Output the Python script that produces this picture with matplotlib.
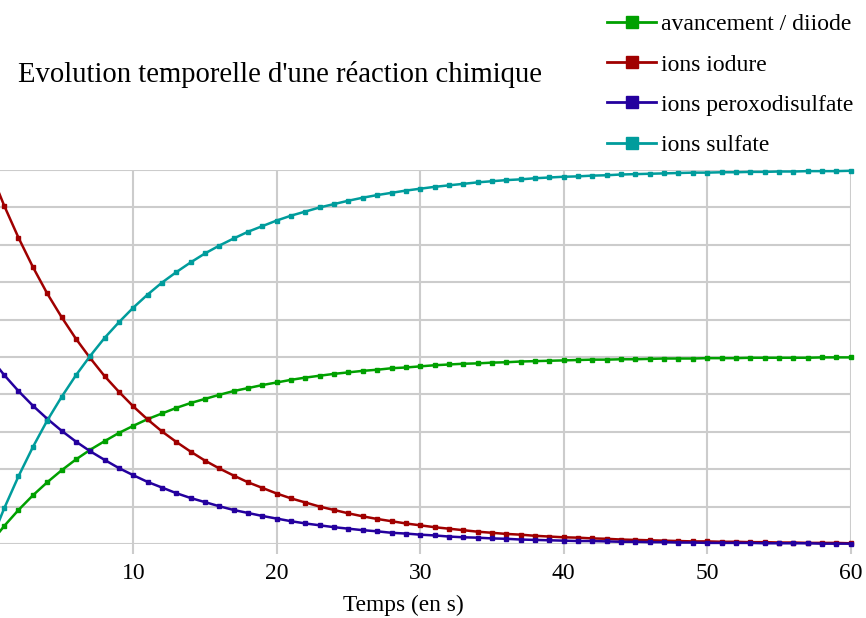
import matplotlib
matplotlib.use('Agg')
import matplotlib.pyplot as plt
from matplotlib.lines import Line2D

# --- données (un point par seconde) ---
temps = list(range(0, 61))

avancement = [0.00, 0.48, 0.91, 1.30, 1.65, 1.97, 2.26, 2.52, 2.75, 2.97,
              3.16, 3.34, 3.49, 3.64, 3.77, 3.88, 3.99, 4.09, 4.17, 4.25,
              4.32, 4.39, 4.45, 4.50, 4.55, 4.59, 4.63, 4.66, 4.70, 4.72,
              4.75, 4.78, 4.80, 4.82, 4.83, 4.85, 4.86, 4.88, 4.89, 4.90,
              4.91, 4.92, 4.93, 4.93, 4.94, 4.94, 4.95, 4.96, 4.96, 4.96,
              4.97, 4.97, 4.97, 4.98, 4.98, 4.98, 4.98, 4.98, 4.99, 4.99, 4.99]

iodure = [10.00, 9.05, 8.19, 7.41, 6.70, 6.07, 5.49, 4.97, 4.49, 4.07,
          3.68, 3.33, 3.01, 2.73, 2.47, 2.23, 2.02, 1.83, 1.65, 1.50,
          1.35, 1.22, 1.11, 1.00, 0.91, 0.82, 0.74, 0.67, 0.61, 0.55,
          0.50, 0.45, 0.41, 0.37, 0.33, 0.30, 0.27, 0.25, 0.22, 0.20,
          0.18, 0.17, 0.15, 0.14, 0.12, 0.11, 0.10, 0.09, 0.08, 0.07,
          0.07, 0.06, 0.06, 0.05, 0.05, 0.04, 0.04, 0.03, 0.03, 0.03, 0.02]

peroxodisulfate = [5.00, 4.52, 4.09, 3.70, 3.35, 3.03, 2.74, 2.48, 2.25, 2.03,
                   1.84, 1.66, 1.51, 1.36, 1.23, 1.12, 1.01, 0.91, 0.83, 0.75,
                   0.68, 0.61, 0.55, 0.50, 0.45, 0.41, 0.37, 0.34, 0.30, 0.28,
                   0.25, 0.23, 0.20, 0.18, 0.17, 0.15, 0.14, 0.12, 0.11, 0.10,
                   0.09, 0.08, 0.08, 0.07, 0.06, 0.06, 0.05, 0.05, 0.04, 0.04,
                   0.03, 0.03, 0.03, 0.03, 0.02, 0.02, 0.02, 0.02, 0.01, 0.01, 0.01]

sulfate = [0.00, 0.95, 1.81, 2.59, 3.30, 3.93, 4.51, 5.03, 5.51, 5.93,
           6.32, 6.67, 6.99, 7.27, 7.53, 7.77, 7.98, 8.17, 8.35, 8.50,
           8.65, 8.78, 8.89, 9.00, 9.09, 9.18, 9.26, 9.33, 9.39, 9.45,
           9.50, 9.55, 9.59, 9.63, 9.67, 9.70, 9.73, 9.75, 9.78, 9.80,
           9.82, 9.83, 9.85, 9.86, 9.88, 9.89, 9.90, 9.91, 9.92, 9.93,
           9.93, 9.94, 9.94, 9.95, 9.95, 9.96, 9.96, 9.97, 9.97, 9.97, 9.98]

series = [
    ('avancement / diiode', avancement, '#00a000'),
    ('ions iodure', iodure, '#a00000'),
    ('ions peroxodisulfate', peroxodisulfate, '#24009e'),
    ('ions sulfate', sulfate, '#009c9c'),
]

x_ticks = [10, 20, 30, 40, 50, 60]

plt.rcParams['font.family'] = ['Liberation Serif', 'DejaVu Serif']

fig = plt.figure(figsize=(8.66, 6.18), dpi=100)
# l'axe des ordonnées est hors cadre, comme sur l'image d'origine
ax = fig.add_axes([-0.0118, 0.1197, 0.9941, 0.6052])

for label, vals, col in series:
    ax.plot(temps, vals, color=col, linewidth=1.8, marker='s', markersize=2.2,
            clip_on=False, zorder=3)

ax.set_xlim(0, 60)
ax.set_ylim(0, 10)
ax.set_xticks([0] + x_ticks)
ax.set_xticklabels([''] + [str(t) for t in x_ticks])
ax.set_yticks(range(0, 11))
ax.set_yticklabels([])
ax.tick_params(axis='y', length=0)
ax.tick_params(axis='x', length=7, width=1.5, color='#cccccc', labelsize=17, pad=7)
ax.grid(True, color='#cccccc', linewidth=1.5)
ax.set_axisbelow(True)
for s in ax.spines.values():
    s.set_visible(False)

ax.set_xlabel('Temps (en s)', fontsize=16.8)
ax.xaxis.set_label_coords(0.48, -0.136)

fig.text(18 / 866, 1 - 75 / 618, "Evolution temporelle d'une réaction chimique",
         fontsize=20.6, va='center', ha='left')

handles = [Line2D([0], [0], color=col, linewidth=2, marker='s', markersize=9)
           for _, _, col in series]
labels = [lab for lab, _, _ in series]
fig.legend(handles, labels, loc='upper left', bbox_to_anchor=(595 / 866, 1 - 2 / 618),
           frameon=False, fontsize=17, handlelength=2.1, handletextpad=0.2,
           labelspacing=0.79, borderaxespad=0.1)

fig.savefig('out.png', dpi=100)
